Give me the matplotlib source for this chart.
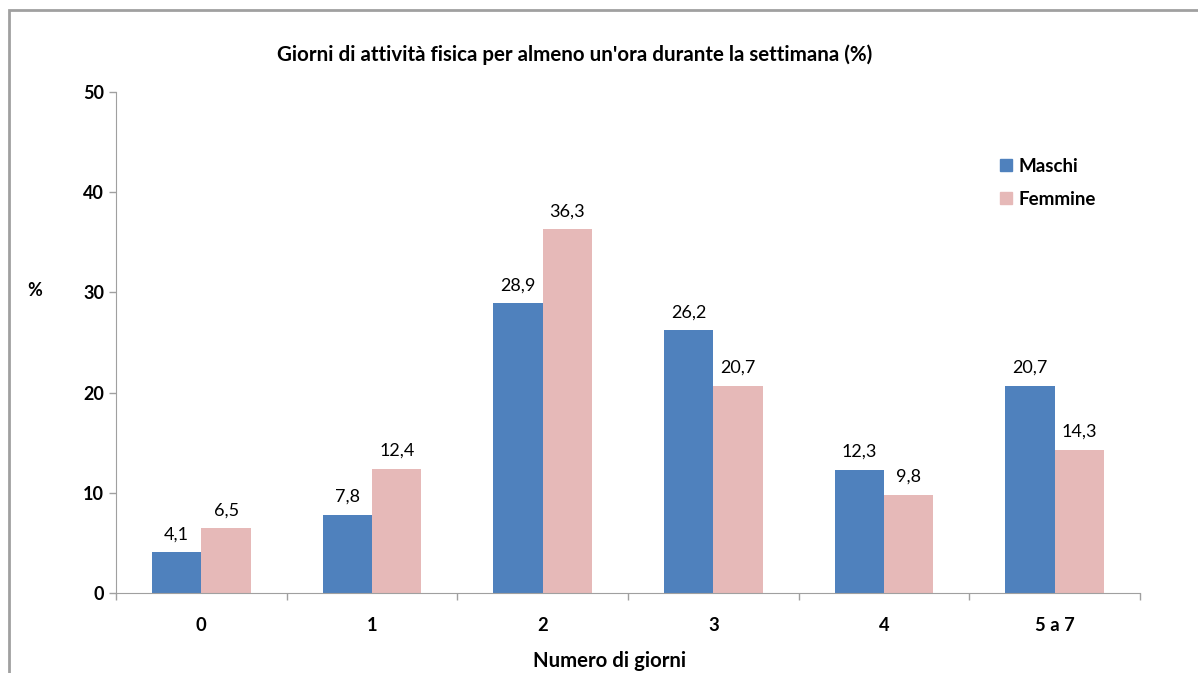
import matplotlib.pyplot as plt
import numpy as np
from matplotlib.patches import Rectangle
from matplotlib.lines import Line2D

plt.rcParams['font.family'] = ['Lato', 'DejaVu Sans']

categories = ['0', '1', '2', '3', '4', '5 a 7']
maschi = [4.1, 7.8, 28.9, 26.2, 12.3, 20.7]
femmine = [6.5, 12.4, 36.3, 20.7, 9.8, 14.3]

blue = '#4F81BD'
pink = '#E6B9B8'
grey = '#A0A0A0'

fig = plt.figure(figsize=(11.98, 6.73), dpi=100)
ax = fig.add_axes([116 / 1198, 1 - 593 / 673, (1140 - 116) / 1198, (593 - 92) / 673])

# outer chart border (runs off the right and bottom edge)
fig.patches.append(Rectangle((9 / 1198, -0.1), 1.2, 1 - 10.5 / 673 + 0.1,
                             transform=fig.transFigure, fill=False,
                             edgecolor=grey, linewidth=2))

x = np.arange(len(categories))
w = 0.29
b1 = ax.bar(x - w / 2, maschi, w, color=blue, label='Maschi')
b2 = ax.bar(x + w / 2, femmine, w, color=pink, label='Femmine')

for bars, vals in ((b1, maschi), (b2, femmine)):
    for r, v in zip(bars, vals):
        ax.annotate(f'{v:.1f}'.replace('.', ','),
                    (r.get_x() + r.get_width() / 2, v),
                    xytext=(0, 7), textcoords='offset points',
                    ha='center', va='bottom', fontsize=13)

ax.set_xlim(-0.5, 5.5)
ax.set_ylim(0, 50)
ax.set_yticks([0, 10, 20, 30, 40, 50])
ax.set_xticks(x)
ax.set_xticklabels(categories, fontweight='bold', fontsize=13.2)
ax.set_xticks(np.arange(-0.5, 6, 1), minor=True)
ax.tick_params(axis='x', which='major', length=0, pad=17)
ax.tick_params(axis='x', which='minor', length=5, color=grey, width=1)
ax.tick_params(axis='y', length=5, color=grey, width=1, labelsize=13)
for lbl in ax.get_yticklabels():
    lbl.set_fontweight('bold')

for s in ('top', 'right'):
    ax.spines[s].set_visible(False)
ax.spines['left'].set_color(grey)
ax.spines['bottom'].set_color(grey)

fig.text(575 / 1198, 1 - 55 / 673, "Giorni di attività fisica per almeno un'ora durante la settimana (%)",
         ha='center', va='center', fontsize=14.8, fontweight='bold')
fig.text(35 / 1198, 1 - 291 / 673, '%', ha='center', va='center',
         fontsize=13, fontweight='bold')
fig.text(610 / 1198, 1 - 661 / 673, 'Numero di giorni', ha='center', va='center',
         fontsize=14.7, fontweight='bold')

handles = [Line2D([], [], marker='s', linestyle='', markersize=8, color=c)
           for c in (blue, pink)]
leg = fig.legend(handles, ['Maschi', 'Femmine'], loc='upper left',
                 bbox_to_anchor=(983 / 1198, 1 - 141 / 673), frameon=False,
                 handlelength=0.7, handletextpad=0.3, labelspacing=0.85,
                 prop={'weight': 'bold', 'size': 13.5})

fig.savefig('out.png', dpi=100)
